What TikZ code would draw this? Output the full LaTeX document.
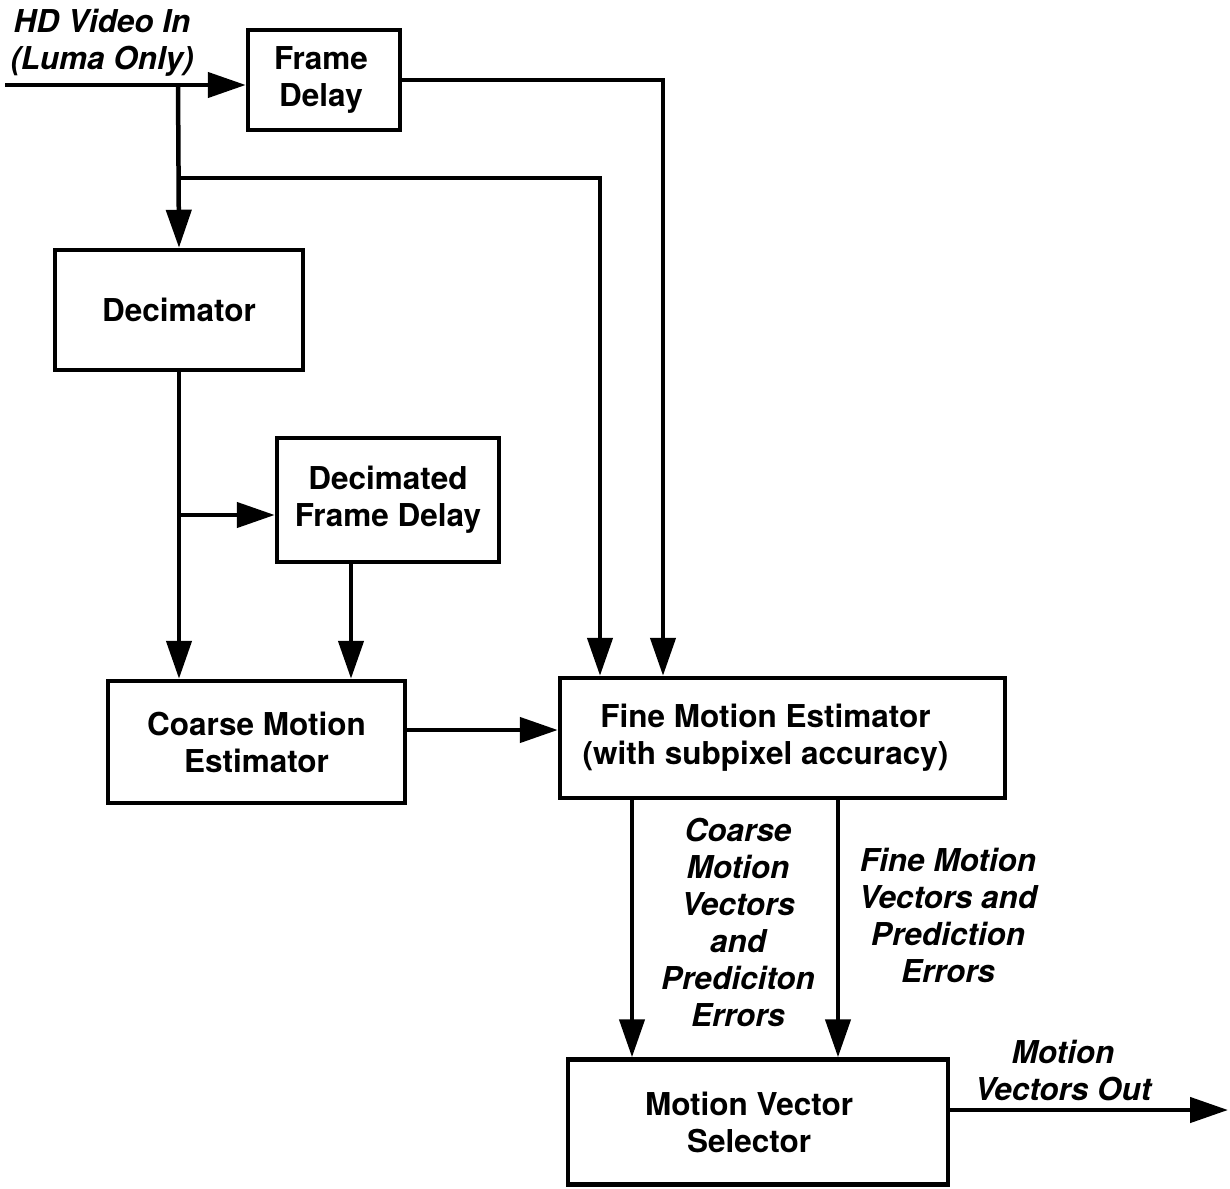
\documentclass[tikz,border=0pt]{standalone}
\usepackage{fontspec}
\setmainfont{TeX Gyre Heros}
\usetikzlibrary{arrows.meta}
\begin{document}
\begin{tikzpicture}[x=1pt,y=-1pt,
  box/.style={draw,line width=4.5pt,inner sep=0pt,align=center,
    font=\fontsize{31.5}{37}\selectfont\bfseries},
  lbl/.style={align=center,inner sep=0pt,
    font=\fontsize{31.5}{37}\selectfont\bfseries\itshape},
  wire/.style={line width=4.5pt},
  arr/.style={wire,-{Triangle[length=38pt,width=25pt]}}]
\useasboundingbox (0,0) rectangle (1230,1188);

% blocks
\node[box,minimum width=152pt,minimum height=100pt] (fd) at (324,80) {Frame\hspace*{6pt}\\Delay\hspace*{6pt}};
\node[box,minimum width=248pt,minimum height=120pt] (dec) at (179,310) {Decimator};
\node[box,minimum width=222pt,minimum height=124pt] (dfd) at (388,500) {Decimated\\Frame Delay};
\node[box,minimum width=297pt,minimum height=122pt] (cme) at (256.5,742) {Coarse Motion\\Estimator};
\node[box,minimum width=445pt,minimum height=120pt] (fme) at (782.5,738) {Fine Motion Estimator\hspace*{34pt}\\(with subpixel accuracy)\hspace*{34pt}};
\node[box,minimum width=380pt,minimum height=125pt] (mvs) at (758,1122) {Motion Vector\hspace*{18pt}\\Selector\hspace*{18pt}};

% helper points for wire positions
\coordinate (in) at (5,85);
\coordinate (j1) at (178,85);
\coordinate (j2) at (178,178);
\coordinate (j3) at (180,515);
\coordinate (xa) at (600,0);
\coordinate (xb) at (663,0);
\coordinate (xd) at (351,0);
\coordinate (yc) at (0,730);
\coordinate (xl) at (632,0);
\coordinate (xr) at (838,0);
\coordinate (out) at (1228,1110);

% wires
\draw[arr] (in) -- (in -| fd.west);
\draw[arr] (j1) -- (dec.north);
\draw[arr] (j2) -| (xa |- fme.north);
\draw[arr] (fd.east) -| (xb |- fme.north);
\draw[arr] (dec.south) -- (dec.south |- cme.north);
\draw[arr] (j3) -- (j3 -| dfd.west);
\draw[arr] (dfd.south -| xd) -- (xd |- cme.north);
\draw[arr] (cme.east |- yc) -- (fme.west |- yc);
\draw[arr] (fme.south -| xl) -- (xl |- mvs.north);
\draw[arr] (fme.south -| xr) -- (xr |- mvs.north);
\draw[arr] (mvs.east |- out) -- (out);

% labels
\node[lbl] (lin) at (102,43) {HD Video In\\(Luma Only)};
\node[lbl] (lcoarse) at (738,922) {Coarse\\Motion\\Vectors\\and\\Prediciton\\Errors};
\node[lbl] (lfine) at (948,915) {Fine Motion\\Vectors and\\Prediction\\Errors};
\node[lbl] (lout) at (1063,1071) {Motion\\Vectors Out};
\end{tikzpicture}
\end{document}
